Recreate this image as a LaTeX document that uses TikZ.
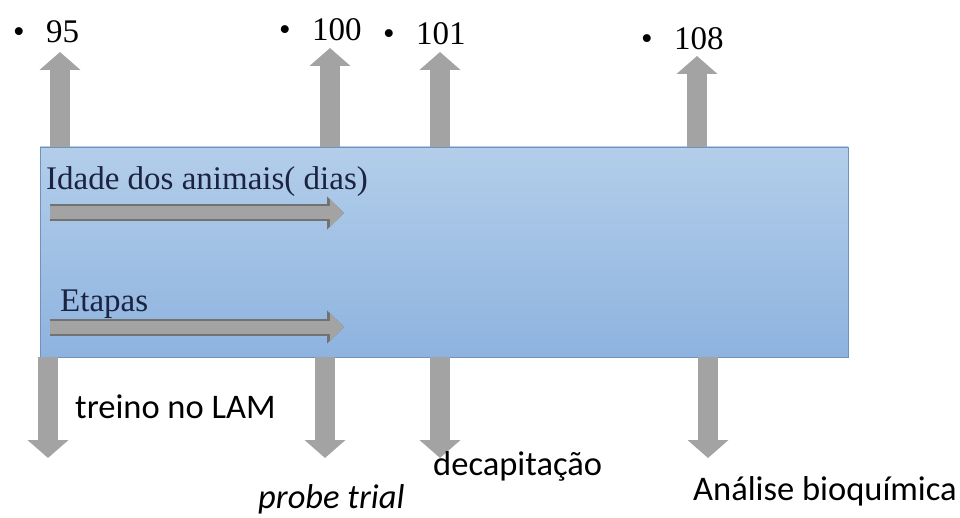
\documentclass[tikz,border=0pt]{standalone}
\usepackage{fontspec}
\setmainfont{Liberation Serif}
\newfontfamily\calibri{Carlito}
\usetikzlibrary{positioning, arrows.meta}
\definecolor{boxtop}{HTML}{B3CEEA}
\definecolor{boxbot}{HTML}{8EB3DF}
\definecolor{boxline}{HTML}{6F93BA}
\definecolor{arrgray}{HTML}{A3A3A3}
\definecolor{inkblue}{HTML}{1B2340}

\begin{document}
\begin{tikzpicture}[
        x=1pt, y=-1pt,
        timebox/.style = {draw=boxline, top color=boxtop, bottom color=boxbot, minimum width=808pt, minimum height=210pt, inner sep=0pt},
        daylbl/.style  = {anchor=base west, inner sep=0pt, font=\fontsize{33}{38}\selectfont},
        boxlbl/.style  = {anchor=base west, inner sep=0pt, font=\fontsize{33}{38}\selectfont, text=inkblue},
        steplbl/.style = {anchor=base west, inner sep=0pt, font=\calibri\fontsize{34.5}{40}\selectfont},
        fatarrow/.style = {draw=arrgray, line width=20pt, -{Triangle[length=18pt, width=40pt]}},
        inarrow/.style  = {draw=arrgray, line width=13pt, -{Triangle[length=14pt, width=27pt]},
                           preaction={draw=arrgray!70!black, line width=17pt, -{Triangle[length=17pt, width=32pt]}}},
    ]
        \useasboundingbox (0,0) rectangle (960,518);

        \node[timebox] (box) at (444,252) {};

        % days on top
        \coordinate (up95)  at (60,52);
        \coordinate (up100) at (330,48);
        \coordinate (up101) at (440,52);
        \coordinate (up108) at (697,56);
        \foreach \u in {up95, up100, up101, up108}
            \draw[fatarrow] (box.north -| \u) -- (\u);

        % steps below
        \coordinate (dnlam)   at (48,458);
        \coordinate (dnprobe) at (325,458);
        \coordinate (dndecap) at (440,458);
        \coordinate (dnbioq)  at (708,458);
        \foreach \d in {dnlam, dnprobe, dndecap, dnbioq}
            \draw[fatarrow] (box.south -| \d) -- (\d);

        \node[daylbl] (d95)  at (13,43)  {\textbullet\hspace{0.65em}95};
        \node[daylbl] (d100) at (279,41) {\textbullet\hspace{0.65em}100};
        \node[daylbl] (d101) at (383,45) {\textbullet\hspace{0.65em}101};
        \node[daylbl] (d108) at (641,50) {\textbullet\hspace{0.65em}108};

        \node[boxlbl] (age)    at (46,190) {Idade dos animais( dias)};
        \node[boxlbl] (etapas) at (60,311) {Etapas};
        \coordinate (age0) at (50,213);
        \coordinate (age1) at (344,213);
        \coordinate (stp0) at (50,327);
        \coordinate (stp1) at (344,327);
        \draw[inarrow] (age0) -- (age1);
        \draw[inarrow] (stp0) -- (stp1);

        \node[steplbl] (lam)   at (75,418)  {treino no LAM};
        \node[steplbl, font=\calibri\itshape\fontsize{34.5}{40}\selectfont] (probe) at (258,508) {probe trial};
        \node[steplbl] (decap) at (433,475) {decapitação};
        \node[steplbl] (bioq)  at (693,500) {Análise bioquímica};
    \end{tikzpicture}
\end{document}
